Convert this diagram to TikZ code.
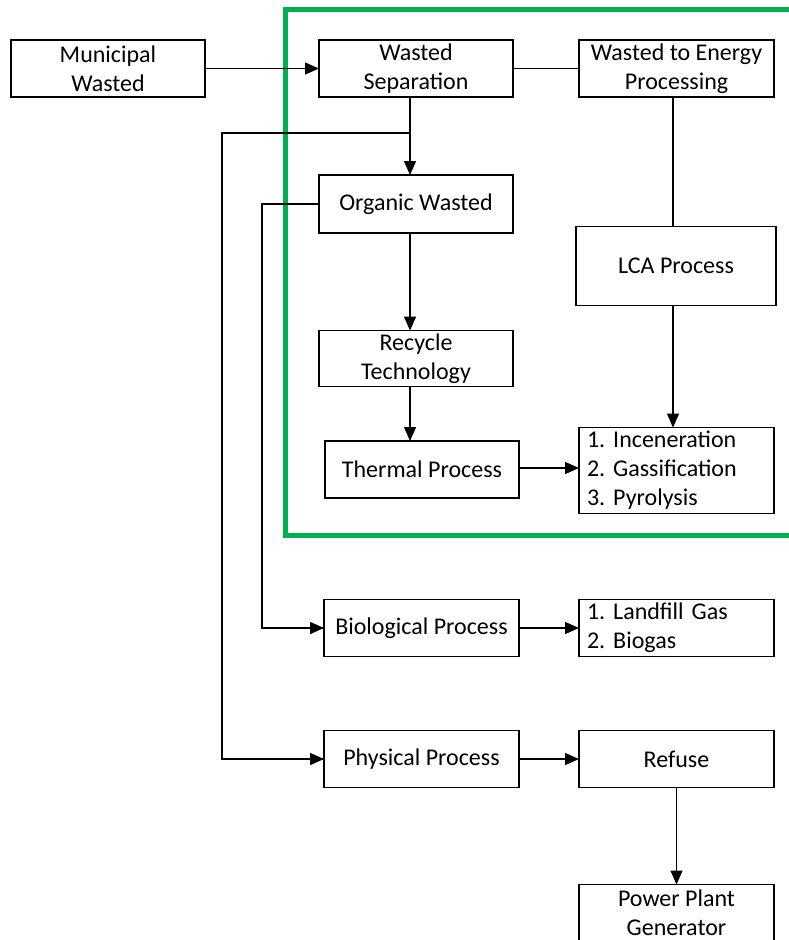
\documentclass[tikz,border=0pt]{standalone}
\usepackage{fontspec}
\setmainfont{Carlito}
\frenchspacing
\usetikzlibrary{arrows.meta}
\definecolor{framegreen}{RGB}{0,176,80}
\tikzset{
  box/.style={draw, line width=1.4pt, inner sep=0pt, outer sep=0pt,
    minimum width=#1, minimum height=57pt, align=center,
    font=\fontsize{24}{29}\selectfont},
  box/.default=194pt,
  listbox/.style={box=195pt, text width=179pt, align=left},
  link/.style={line width=1.4pt},
  flow/.style={link, -{Triangle[length=14pt,width=12pt]}},
}
\begin{document}
\begin{tikzpicture}[x=1pt,y=-1pt]
\useasboundingbox (0,0) rectangle (789,940);

% highlighted energy-recovery region
\draw[framegreen, line width=5pt] (800,9) -- (285,9) -- (285,535) -- (800,535);

% boxes
\node[box] (mun) at (108,68.5) {Municipal\\Wasted};
\node[box] (ws)  at (416,68.5) {Wasted\\Separation};
\node[box=195pt] (wte) at (676.5,68.5) {Wasted to Energy\\Processing};
\node[box, minimum height=58pt] (org) at (416,204) {Organic Wasted};
\node[box=200pt, minimum height=79pt] (lca) at (676,266) {LCA Process};
\node[box, minimum height=56pt] (rec) at (416,358.5) {Recycle\\Technology};
\node[box] (th)  at (422,469.5) {Thermal Process};
\node[listbox, minimum height=86pt] (inc) at (676.5,470.5) {1. Inceneration\\2. Gassification\\3. Pyrolysis};
\node[box=195pt] (bio) at (421.5,628) {Biological Process};
\node[listbox] (lg) at (676.5,628) {1. Landfill Gas\\2. Biogas};
\node[box=195pt] (phy) at (421.5,759) {Physical Process};
\node[box=195pt] (ref) at (676.5,759) {Refuse};
\node[box=195pt] (pp)  at (676.5,913) {Power Plant\\Generator};

% branch points
\coordinate (split) at (410,133);
\coordinate (phyturn) at (222,133);
\coordinate (bioturn) at (262,204);

% connectors
\draw[flow] (mun.east) -- (ws.west);
\draw[link] (ws.east) -- (wte.west);
\draw[flow] (ws.south -| split) -- (org.north -| split);
\draw[link] (split) -- (phyturn) |- (phy.west);
\draw[flow] (phyturn |- phy.west) -- (phy.west);
\draw[link] (org.west) -- (bioturn) |- (bio.west);
\draw[flow] (bioturn |- bio.west) -- (bio.west);
\draw[flow] (org.south -| split) -- (rec.north -| split);
\draw[flow] (rec.south -| split) -- (th.north -| split);
\draw[link] (wte.south -| 673,0) -- (lca.north -| 673,0);
\draw[flow] (lca.south -| 673,0) -- (inc.north -| 673,0);
\draw[flow] (th.east |- 0,468) -- (inc.west |- 0,468);
\draw[flow] (bio.east) -- (lg.west);
\draw[flow] (phy.east) -- (ref.west);
\draw[flow] (ref.south) -- (pp.north);
\end{tikzpicture}
\end{document}
